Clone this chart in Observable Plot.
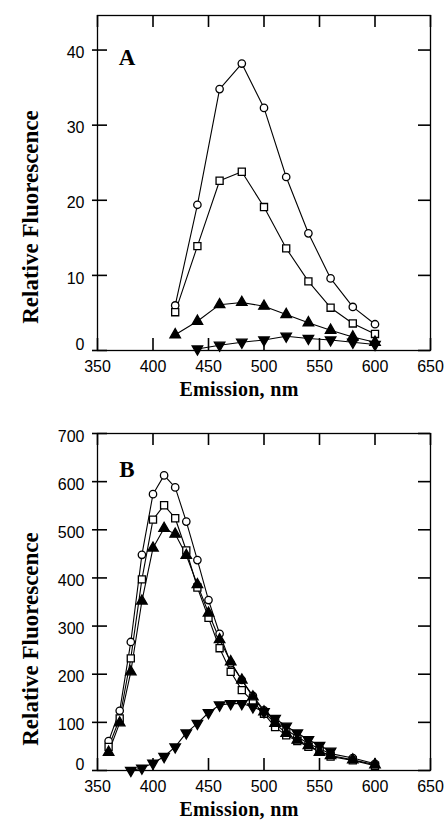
<!DOCTYPE html>
<html>
<head>
<meta charset="utf-8">
<script src="https://cdn.jsdelivr.net/npm/d3@7"></script>
<script src="https://cdn.jsdelivr.net/npm/@observablehq/plot@0.6"></script>
<style>
  html, body { margin: 0; padding: 0; background: white; }
  #chart svg { display: block; }
</style>
</head>
<body>
<div id="chart"></div>
<script>
// ---------- Data ----------
const xTicks = [350, 400, 450, 500, 550, 600, 650];

// Panel A
const wlA = [420, 440, 460, 480, 500, 520, 540, 560, 580, 600];
const circleA = [6.0, 19.4, 34.8, 38.2, 32.3, 23.1, 15.6, 9.6, 5.8, 3.5];
const squareA = [5.1, 13.9, 22.6, 23.8, 19.1, 13.6, 9.2, 5.7, 3.6, 2.2];
const triUpA = [2.1, 3.9, 6.1, 6.4, 5.9, 4.8, 3.7, 2.7, 1.8, 1.1];
const wlDownA = [440, 460, 480, 500, 520, 540, 560, 580, 600];
const triDownA = [0.2, 0.7, 1.1, 1.4, 1.9, 1.6, 1.4, 1.1, 0.8];
const yTicksA = [0, 10, 20, 30, 40];

// Panel B
const wlB = [360, 370, 380, 390, 400, 410, 420, 430, 440, 450, 460, 470, 480, 490, 500, 510, 520, 530, 540, 550, 560, 580, 600];
const circleB = [61, 124, 267, 448, 574, 613, 588, 517, 437, 354, 284, 223, 188, 155, 125, 104, 84, 70, 56, 45, 35, 26, 14];
const squareB = [49, 108, 233, 397, 521, 551, 524, 457, 380, 317, 254, 205, 167, 143, 118, 90, 73, 61, 49, 42, 29, 21, 10];
const triUpB = [38, 99, 205, 352, 462, 503, 491, 447, 386, 327, 272, 226, 188, 153, 122, 98, 77, 63, 52, 38, 31, 22, 12];
const wlDownB = [380, 390, 400, 410, 420, 430, 440, 450, 460, 470, 480, 490, 500, 510, 520, 530, 540, 550, 560];
const triDownB = [0, 5, 15, 29, 49, 78, 98, 120, 136, 139, 139, 132, 122, 108, 92, 78, 64, 52, 40];
const yTicksB = [0, 100, 200, 300, 400, 500, 600, 700];

// ---------- Helpers ----------
const toRows = (xs, ys) => xs.map((x, i) => ({x, y: ys[i]}));

const triangleDown = {
  draw(context, size) {
    const s3 = Math.sqrt(3);
    const y = -Math.sqrt(size / (s3 * 3));
    context.moveTo(0, -y * 2);
    context.lineTo(-s3 * y, y);
    context.lineTo(s3 * y, y);
    context.closePath();
  }
};

const W = 448, ML = 97, MR = 18;
const innerW = W - ML - MR;
const TICK = 12;

function panel({height, marginTop, marginBottom, yDomain, yTicks, series, letter, letterY, titleY, xTitleY}) {
  const innerH = height - marginTop - marginBottom;
  const nonZero = yTicks.filter(d => d !== 0);
  const xT = xTicks.map(v => ({v}));
  const yT = yTicks.map(v => ({v}));
  const tk = {stroke: "black", strokeWidth: 1.6};
  const marks = [
    Plot.frame({stroke: "black", strokeWidth: 1.3}),
    // bottom labels
    Plot.axisX({ticks: xTicks, tickSize: 0, tickPadding: 10, label: null, tickFormat: d => String(d)}),
    // left labels
    Plot.axisY({ticks: nonZero, tickSize: 0, tickPadding: 13, dy: 3, label: null}),
    Plot.axisY({ticks: [0], tickSize: 0, tickPadding: 13, dy: -6, label: null}),
    // bottom inward ticks
    Plot.tickX(xT, {x: "v", insetTop: innerH - TICK, ...tk}),
    // top inward ticks
    Plot.tickX(xT, {x: "v", insetBottom: innerH - TICK, ...tk}),
    // left ticks crossing the frame
    Plot.tickY(yT, {y: "v", insetLeft: -5, insetRight: innerW - 10, ...tk}),
    // right inward ticks
    Plot.tickY(yT, {y: "v", insetLeft: innerW - TICK, ...tk})
  ];
  for (const s of series) {
    marks.push(Plot.line(s.data, {x: "x", y: "y", stroke: "black", strokeWidth: 1.1}));
  }
  for (const s of series) {
    marks.push(Plot.dot(s.data, {x: "x", y: "y", symbol: s.symbol, r: s.r, fill: s.fill, stroke: "black", strokeWidth: 1.3}));
  }
  const svg = Plot.plot({
    width: W,
    height,
    marginLeft: ML,
    marginRight: MR,
    marginTop,
    marginBottom,
    x: {domain: [350, 650]},
    y: {domain: yDomain},
    style: {fontFamily: "'Liberation Sans', Arial, sans-serif", fontSize: "16px", color: "black", background: "white", overflow: "visible"},
    marks
  });
  const sel = d3.select(svg);
  sel.append("text")
    .attr("x", 127).attr("y", letterY)
    .attr("font-family", "'Liberation Serif', 'Times New Roman', serif")
    .attr("font-weight", "bold").attr("font-size", 23).attr("fill", "black")
    .text(letter);
  sel.append("text")
    .attr("transform", `translate(38,${titleY}) rotate(-90)`)
    .attr("text-anchor", "middle")
    .attr("font-family", "'Liberation Serif', 'Times New Roman', serif")
    .attr("font-weight", "bold").attr("font-size", 23).attr("fill", "black")
    .text("Relative Fluorescence");
  sel.append("text")
    .attr("x", 239).attr("y", xTitleY)
    .attr("text-anchor", "middle")
    .attr("font-family", "'Liberation Serif', 'Times New Roman', serif")
    .attr("font-weight", "bold").attr("font-size", 20).attr("letter-spacing", 0.3).attr("fill", "black")
    .text("Emission, nm");
  return svg;
}

const seriesA = [
  {data: toRows(wlA, circleA), symbol: "circle", r: 3.7, fill: "white"},
  {data: toRows(wlA, squareA), symbol: "square", r: 4, fill: "white"},
  {data: toRows(wlA, triUpA), symbol: "triangle", r: 3.9, fill: "black"},
  {data: toRows(wlDownA, triDownA), symbol: triangleDown, r: 3.9, fill: "black"}
];
const seriesB = [
  {data: toRows(wlB, circleB), symbol: "circle", r: 3.7, fill: "white"},
  {data: toRows(wlB, squareB), symbol: "square", r: 4, fill: "white"},
  {data: toRows(wlB, triUpB), symbol: "triangle", r: 3.9, fill: "black"},
  {data: toRows(wlDownB, triDownB), symbol: triangleDown, r: 3.9, fill: "black"}
];

const chart = document.getElementById("chart");
chart.appendChild(panel({
  height: 400, marginTop: 15, marginBottom: 50,
  yDomain: [0, 44.6], yTicks: yTicksA, series: seriesA,
  letter: "A", letterY: 65, titleY: 217, xTitleY: 396
}));
chart.appendChild(panel({
  height: 423, marginTop: 33, marginBottom: 53,
  yDomain: [0, 700], yTicks: yTicksB, series: seriesB,
  letter: "B", letterY: 77, titleY: 239, xTitleY: 416
}));
</script>
</body>
</html>
